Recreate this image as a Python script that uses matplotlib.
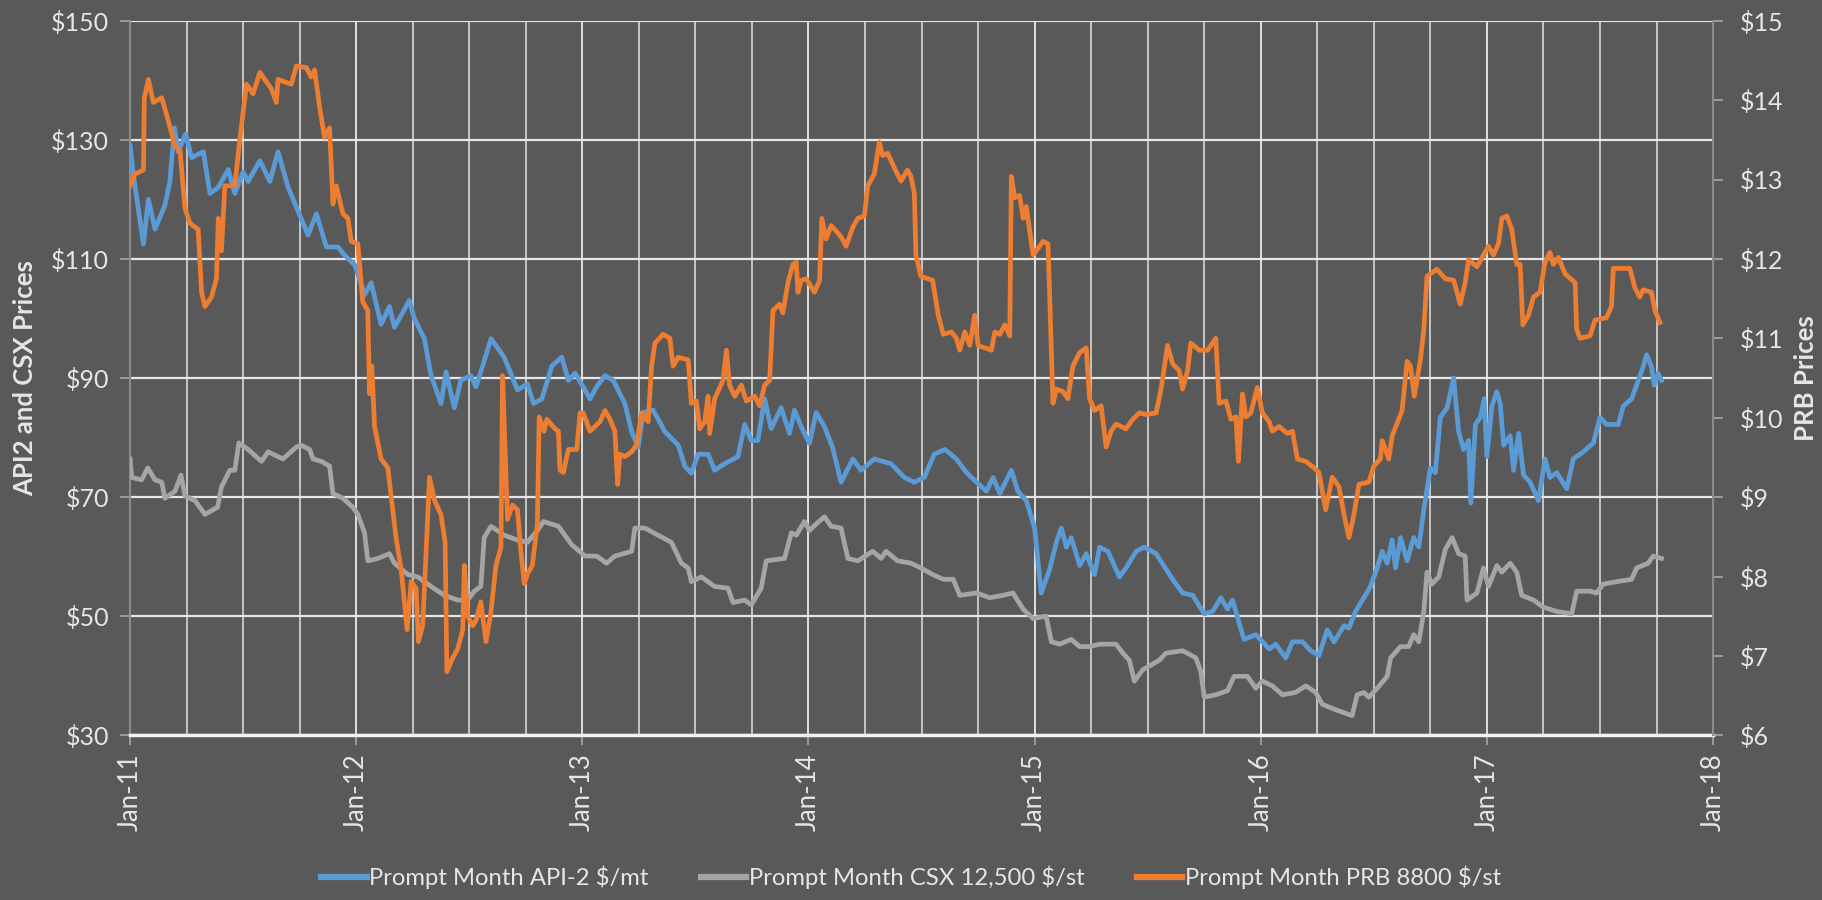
import matplotlib
matplotlib.use('Agg')
import matplotlib.pyplot as plt
from matplotlib.ticker import FixedLocator, FuncFormatter

plt.rcParams['font.family'] = ['Lato', 'DejaVu Sans']

# x values are decimal years
api2_t = [2011.000, 2011.015, 2011.059, 2011.081, 2011.110, 2011.154, 2011.176, 2011.196, 2011.213, 2011.246,
          2011.272, 2011.324, 2011.353, 2011.390, 2011.434, 2011.463, 2011.500, 2011.522, 2011.574, 2011.618,
          2011.654, 2011.699, 2011.743, 2011.787, 2011.824, 2011.868, 2011.919, 2011.949, 2011.993, 2012.037,
          2012.066, 2012.110, 2012.147, 2012.169, 2012.235, 2012.257, 2012.301, 2012.331, 2012.375, 2012.397,
          2012.434, 2012.463, 2012.507, 2012.529, 2012.559, 2012.596, 2012.654, 2012.713, 2012.757, 2012.784,
          2012.821, 2012.865, 2012.909, 2012.938, 2012.968, 2013.034, 2013.063, 2013.100, 2013.137, 2013.188,
          2013.218, 2013.247, 2013.269, 2013.313, 2013.365, 2013.424, 2013.453, 2013.482, 2013.512, 2013.556,
          2013.585, 2013.629, 2013.688, 2013.718, 2013.747, 2013.776, 2013.806, 2013.835, 2013.879, 2013.916,
          2013.938, 2013.968, 2014.004, 2014.034, 2014.071, 2014.107, 2014.144, 2014.196, 2014.232, 2014.291,
          2014.365, 2014.424, 2014.468, 2014.512, 2014.556, 2014.603, 2014.654, 2014.699, 2014.743, 2014.787,
          2014.816, 2014.846, 2014.897, 2014.926, 2014.963, 2015.000, 2015.029, 2015.066, 2015.096, 2015.118,
          2015.140, 2015.162, 2015.199, 2015.228, 2015.265, 2015.287, 2015.324, 2015.375, 2015.404, 2015.449,
          2015.485, 2015.537, 2015.610, 2015.654, 2015.699, 2015.750, 2015.787, 2015.824, 2015.853, 2015.875,
          2015.926, 2015.978, 2016.037, 2016.066, 2016.110, 2016.140, 2016.184, 2016.221, 2016.257, 2016.294,
          2016.324, 2016.368, 2016.390, 2016.419, 2016.456, 2016.485, 2016.515, 2016.537, 2016.559, 2016.581,
          2016.596, 2016.618, 2016.647, 2016.676, 2016.699, 2016.721, 2016.750, 2016.772, 2016.794, 2016.824,
          2016.853, 2016.875, 2016.897, 2016.919, 2016.929, 2016.949, 2016.971, 2016.988, 2017.000, 2017.022,
          2017.044, 2017.059, 2017.074, 2017.103, 2017.118, 2017.140, 2017.162, 2017.191, 2017.228, 2017.257,
          2017.279, 2017.309, 2017.353, 2017.382, 2017.426, 2017.471, 2017.500, 2017.529, 2017.581, 2017.603,
          2017.640, 2017.662, 2017.691, 2017.706, 2017.728, 2017.740, 2017.757, 2017.772]
api2_v = [129, 124, 112.5, 120, 115, 119, 123, 132, 128, 131,
          127, 128, 121, 122, 125, 121, 124.6, 123, 126.5, 123,
          128, 122, 118, 114, 117.6, 112, 112, 110.6, 109, 104,
          106, 99, 102, 98.5, 103, 100, 96.6, 90.4, 85.7, 91,
          85, 89.6, 90.4, 88.5, 92, 96.6, 93.5, 88, 89, 85.7,
          86.5, 92, 93.5, 89.6, 90.8, 86.5, 88.5, 90.4, 89.6, 85.7,
          81, 78.4, 84.2, 84.6, 81, 78.7, 75.2, 74, 77.2, 77.2,
          74.5, 75.6, 76.8, 82.2, 79.5, 79.5, 86.5, 81.5, 85, 80.7,
          84.6, 81.8, 79, 84.2, 81.8, 78.3, 72.5, 76.4, 74.5, 76.4,
          75.6, 73.3, 72.5, 73.3, 77.2, 78, 76.4, 74.1, 72.5, 71,
          73.3, 70.6, 74.5, 71, 69.4, 64.8, 53.9, 57.8, 62.4, 64.8,
          61.6, 63.2, 58.5, 60.5, 57, 61.6, 60.9, 56.6, 58.1, 60.9,
          61.6, 60.5, 56.2, 53.9, 53.5, 50.4, 50.8, 53.1, 51.2, 52.7,
          46.1, 46.9, 44.5, 45.3, 43, 45.7, 45.7, 44.2, 43.4, 47.7,
          45.7, 48.4, 48, 50.8, 53.1, 55, 58.1, 60.9, 58.9, 62.8,
          58.1, 63.2, 59.3, 63.2, 61.6, 67.9, 74.9, 74.1, 83.4, 85,
          90, 81, 78, 79.5, 69, 82.2, 83.4, 86.5, 76.8, 85.3,
          87.7, 85.7, 78.7, 80.3, 74.5, 80.7, 73.7, 72.5, 69.4, 76.4,
          73.3, 74.1, 71.4, 76.4, 77.6, 79.1, 83.4, 82.2, 82.2, 85.3,
          86.5, 88.8, 91.9, 93.9, 91.9, 88.8, 90.8, 89.6]

csx_t = [2011.000, 2011.007, 2011.051, 2011.078, 2011.110, 2011.140, 2011.154, 2011.199, 2011.225, 2011.243,
         2011.287, 2011.331, 2011.387, 2011.404, 2011.441, 2011.463, 2011.481, 2011.522, 2011.581, 2011.610,
         2011.654, 2011.676, 2011.735, 2011.757, 2011.794, 2011.809, 2011.846, 2011.882, 2011.897, 2011.941,
         2011.985, 2012.007, 2012.037, 2012.051, 2012.096, 2012.147, 2012.169, 2012.228, 2012.272, 2012.331,
         2012.390, 2012.449, 2012.493, 2012.522, 2012.551, 2012.566, 2012.596, 2012.654, 2012.713, 2012.757,
         2012.801, 2012.828, 2012.894, 2012.953, 2013.012, 2013.063, 2013.107, 2013.144, 2013.218, 2013.232,
         2013.276, 2013.335, 2013.394, 2013.438, 2013.468, 2013.482, 2013.526, 2013.585, 2013.644, 2013.666,
         2013.718, 2013.747, 2013.791, 2013.813, 2013.894, 2013.924, 2013.946, 2013.982, 2014.004, 2014.034,
         2014.071, 2014.100, 2014.144, 2014.174, 2014.218, 2014.284, 2014.321, 2014.343, 2014.394, 2014.453,
         2014.497, 2014.549, 2014.596, 2014.640, 2014.669, 2014.743, 2014.801, 2014.860, 2014.904, 2014.949,
         2014.993, 2015.051, 2015.074, 2015.110, 2015.162, 2015.199, 2015.243, 2015.287, 2015.360, 2015.390,
         2015.419, 2015.441, 2015.478, 2015.551, 2015.581, 2015.654, 2015.713, 2015.735, 2015.750, 2015.801,
         2015.853, 2015.882, 2015.941, 2015.978, 2016.007, 2016.051, 2016.096, 2016.154, 2016.199, 2016.243,
         2016.272, 2016.324, 2016.404, 2016.426, 2016.456, 2016.478, 2016.515, 2016.559, 2016.574, 2016.618,
         2016.654, 2016.676, 2016.699, 2016.721, 2016.735, 2016.757, 2016.787, 2016.816, 2016.846, 2016.875,
         2016.904, 2016.912, 2016.956, 2016.985, 2017.007, 2017.044, 2017.066, 2017.103, 2017.132, 2017.154,
         2017.206, 2017.250, 2017.309, 2017.375, 2017.397, 2017.456, 2017.485, 2017.515, 2017.574, 2017.640,
         2017.662, 2017.713, 2017.735, 2017.772]
csx_v = [76.4, 73.3, 72.9, 74.9, 72.9, 72.5, 69.8, 71, 73.7, 70.2,
         69.4, 67.1, 68.3, 71.7, 74.5, 74.5, 79.1, 78, 76, 77.6,
         76.8, 76.4, 78.4, 78.7, 78, 76.4, 76, 75.2, 70.6, 69.8,
         68.3, 67.1, 64, 59.3, 59.7, 60.5, 58.9, 57, 56.6, 55,
         53.5, 52.7, 52.7, 54.2, 55, 63.2, 65.1, 63.6, 62.8, 62.4,
         64.4, 65.9, 65.1, 62, 60.1, 60.1, 58.9, 60.1, 60.9, 64.8,
         64.8, 63.6, 62.4, 58.9, 58.1, 55.8, 56.6, 55, 54.7, 52.3,
         52.7, 51.9, 54.7, 59.3, 59.7, 64, 63.6, 65.9, 64.4, 65.5,
         66.7, 65.1, 64.8, 59.7, 59.3, 60.9, 59.7, 60.9, 59.3, 58.9,
         58.1, 57, 56.2, 56.2, 53.5, 53.9, 53.1, 53.5, 53.9, 51.2,
         49.6, 50, 45.7, 45.3, 46.1, 44.9, 44.9, 45.3, 45.3, 43.8,
         42.6, 39.1, 41, 42.6, 43.8, 44.2, 43, 40.7, 36.4, 36.8,
         37.5, 39.9, 39.9, 37.9, 39.1, 38.3, 36.8, 37.2, 38.3, 37.2,
         35.2, 34.4, 33.3, 36.8, 37.2, 36.4, 37.9, 39.9, 43, 44.9,
         44.9, 46.9, 45.7, 50.8, 57.4, 55.4, 56.6, 61.2, 63.2, 60.5,
         60.1, 52.7, 53.9, 58.1, 55, 58.5, 57.4, 58.9, 57.4, 53.5,
         52.7, 51.5, 50.8, 50.4, 54.2, 54.2, 53.9, 55.4, 55.8, 56.2,
         58.1, 58.9, 60.1, 59.7]

prb_t = [2011.000, 2011.022, 2011.059, 2011.063, 2011.081, 2011.103, 2011.140, 2011.169, 2011.199, 2011.221,
         2011.243, 2011.265, 2011.301, 2011.316, 2011.331, 2011.360, 2011.382, 2011.390, 2011.404, 2011.419,
         2011.463, 2011.485, 2011.515, 2011.544, 2011.574, 2011.625, 2011.647, 2011.654, 2011.713, 2011.735,
         2011.779, 2011.801, 2011.816, 2011.838, 2011.860, 2011.882, 2011.897, 2011.912, 2011.941, 2011.963,
         2011.978, 2012.007, 2012.029, 2012.051, 2012.059, 2012.069, 2012.081, 2012.110, 2012.140, 2012.154,
         2012.176, 2012.199, 2012.225, 2012.243, 2012.265, 2012.275, 2012.294, 2012.309, 2012.324, 2012.346,
         2012.375, 2012.393, 2012.401, 2012.426, 2012.449, 2012.471, 2012.478, 2012.493, 2012.515, 2012.529,
         2012.551, 2012.574, 2012.596, 2012.618, 2012.640, 2012.647, 2012.669, 2012.691, 2012.713, 2012.728,
         2012.743, 2012.757, 2012.779, 2012.801, 2012.809, 2012.831, 2012.843, 2012.879, 2012.894, 2012.901,
         2012.916, 2012.938, 2012.975, 2012.990, 2013.004, 2013.034, 2013.078, 2013.100, 2013.122, 2013.144,
         2013.156, 2013.166, 2013.188, 2013.218, 2013.240, 2013.262, 2013.291, 2013.306, 2013.321, 2013.357,
         2013.387, 2013.401, 2013.424, 2013.468, 2013.482, 2013.504, 2013.519, 2013.541, 2013.556, 2013.563,
         2013.585, 2013.622, 2013.637, 2013.651, 2013.674, 2013.703, 2013.725, 2013.762, 2013.784, 2013.806,
         2013.828, 2013.843, 2013.872, 2013.887, 2013.909, 2013.931, 2013.946, 2013.953, 2013.968, 2013.990,
         2014.026, 2014.049, 2014.059, 2014.078, 2014.100, 2014.144, 2014.166, 2014.196, 2014.218, 2014.247,
         2014.262, 2014.291, 2014.313, 2014.328, 2014.350, 2014.379, 2014.409, 2014.438, 2014.453, 2014.468,
         2014.475, 2014.497, 2014.549, 2014.574, 2014.596, 2014.632, 2014.654, 2014.669, 2014.691, 2014.713,
         2014.735, 2014.750, 2014.779, 2014.809, 2014.824, 2014.846, 2014.868, 2014.890, 2014.897, 2014.912,
         2014.934, 2014.949, 2014.963, 2014.993, 2015.022, 2015.037, 2015.059, 2015.066, 2015.081, 2015.096,
         2015.125, 2015.147, 2015.169, 2015.199, 2015.228, 2015.243, 2015.265, 2015.294, 2015.316, 2015.338,
         2015.360, 2015.404, 2015.434, 2015.463, 2015.493, 2015.537, 2015.559, 2015.588, 2015.610, 2015.640,
         2015.654, 2015.676, 2015.691, 2015.728, 2015.765, 2015.801, 2015.816, 2015.846, 2015.868, 2015.890,
         2015.901, 2015.919, 2015.934, 2015.956, 2015.985, 2016.007, 2016.037, 2016.051, 2016.081, 2016.118,
         2016.140, 2016.162, 2016.199, 2016.235, 2016.257, 2016.287, 2016.316, 2016.346, 2016.368, 2016.390,
         2016.412, 2016.434, 2016.478, 2016.500, 2016.529, 2016.537, 2016.566, 2016.581, 2016.610, 2016.625,
         2016.647, 2016.662, 2016.679, 2016.706, 2016.721, 2016.735, 2016.779, 2016.816, 2016.853, 2016.882,
         2016.904, 2016.919, 2016.956, 2016.985, 2017.007, 2017.029, 2017.051, 2017.066, 2017.088, 2017.110,
         2017.132, 2017.147, 2017.159, 2017.184, 2017.206, 2017.235, 2017.257, 2017.279, 2017.294, 2017.316,
         2017.346, 2017.390, 2017.397, 2017.412, 2017.456, 2017.478, 2017.529, 2017.551, 2017.559, 2017.632,
         2017.654, 2017.676, 2017.691, 2017.728, 2017.743, 2017.765]
prb_v = [12.92, 13.07, 13.12, 14.03, 14.26, 13.97, 14.03, 13.74, 13.42, 13.36,
         12.63, 12.45, 12.37, 11.58, 11.4, 11.52, 11.75, 12.51, 12.1, 12.92,
         12.92, 13.5, 14.2, 14.08, 14.35, 14.14, 13.97, 14.26, 14.2, 14.43,
         14.41, 14.29, 14.38, 13.91, 13.53, 13.65, 12.69, 12.92, 12.57, 12.51,
         12.22, 12.19, 11.46, 11.35, 10.3, 10.65, 9.89, 9.48, 9.37, 9.02,
         8.49, 8.08, 7.33, 7.94, 7.85, 7.18, 7.38, 8.32, 9.25, 8.96,
         8.78, 8.43, 6.8, 6.97, 7.09, 7.33, 8.14, 7.5, 7.38, 7.44,
         7.68, 7.18, 7.56, 8.14, 8.37, 10.53, 8.72, 8.9, 8.84, 8.32,
         7.91, 8.03, 8.14, 8.67, 10.01, 9.83, 9.98, 9.86, 9.83, 9.34,
         9.31, 9.6, 9.6, 10.06, 10.06, 9.83, 9.95, 10.09, 9.98, 9.83,
         9.16, 9.54, 9.51, 9.57, 9.66, 10.06, 9.95, 10.65, 10.94, 11.05,
         11.0, 10.65, 10.76, 10.73, 10.18, 10.21, 9.86, 9.95, 10.27, 9.8,
         10.24, 10.47, 10.85, 10.41, 10.27, 10.41, 10.21, 10.27, 10.15, 10.41,
         10.47, 11.35, 11.43, 11.32, 11.7, 11.93, 11.96, 11.58, 11.73, 11.75,
         11.58, 11.73, 12.51, 12.25, 12.42, 12.28, 12.16, 12.4, 12.51, 12.54,
         12.92, 13.07, 13.47, 13.3, 13.33, 13.15, 12.98, 13.12, 13.04, 12.83,
         12.05, 11.78, 11.73, 11.29, 11.05, 11.08, 11.0, 10.85, 11.08, 10.91,
         11.29, 10.91, 10.88, 10.85, 11.08, 11.05, 11.17, 11.03, 13.04, 12.77,
         12.8, 12.51, 12.66, 12.05, 12.16, 12.22, 12.19, 11.58, 10.18, 10.36,
         10.33, 10.24, 10.65, 10.82, 10.88, 10.24, 10.09, 10.15, 9.63, 9.83,
         9.92, 9.86, 9.98, 10.06, 10.04, 10.06, 10.36, 10.91, 10.68, 10.59,
         10.36, 10.59, 10.94, 10.85, 10.85, 11.0, 10.18, 10.21, 9.98, 10.01,
         9.45, 10.3, 10.01, 10.06, 10.38, 10.06, 9.95, 9.83, 9.89, 9.8,
         9.83, 9.48, 9.45, 9.37, 9.31, 8.84, 9.25, 9.13, 8.78, 8.49,
         8.78, 9.16, 9.19, 9.39, 9.48, 9.71, 9.48, 9.77, 9.98, 10.09,
         10.71, 10.65, 10.27, 10.73, 11.11, 11.78, 11.87, 11.75, 11.73, 11.43,
         11.7, 11.99, 11.9, 12.05, 12.16, 12.05, 12.19, 12.51, 12.54, 12.37,
         11.93, 11.93, 11.17, 11.29, 11.52, 11.58, 11.96, 12.08, 11.93, 12.02,
         11.81, 11.7, 11.11, 11.0, 11.03, 11.23, 11.26, 11.4, 11.88, 11.88,
         11.64, 11.52, 11.61, 11.58, 11.35, 11.2]

series_names = ['Prompt Month API-2 $/mt', 'Prompt Month CSX 12,500 $/st', 'Prompt Month PRB 8800 $/st']
year_ticks = [2011, 2012, 2013, 2014, 2015, 2016, 2017, 2018]
year_labels = ['Jan-11', 'Jan-12', 'Jan-13', 'Jan-14', 'Jan-15', 'Jan-16', 'Jan-17', 'Jan-18']

bg = '#595959'
txt = '#e6e6e6'
blue, gray, orange = '#5b9bd5', '#a5a5a5', '#ed7d31'

fig = plt.figure(figsize=(18.22, 9.0), dpi=100, facecolor=bg)
ax = fig.add_axes([0.0714, 0.183, 0.8688, 0.794])
ax.set_facecolor(bg)
ax2 = ax.twinx()

l1, = ax.plot(api2_t, api2_v, color=blue, lw=3.4, label=series_names[0], zorder=3)
l2, = ax.plot(csx_t, csx_v, color=gray, lw=3.4, label=series_names[1], zorder=3)
l3, = ax2.plot(prb_t, prb_v, color=orange, lw=3.4, label=series_names[2], zorder=3)

ax.set_xlim(2011, 2018)
ax.set_ylim(30, 150)
ax2.set_ylim(6, 15)
ax.set_yticks(range(30, 151, 20))
ax2.set_yticks(range(6, 16))
ax.yaxis.set_major_formatter(FuncFormatter(lambda v, p: f'${v:.0f}'))
ax2.yaxis.set_major_formatter(FuncFormatter(lambda v, p: f'${v:.0f}'))

ax.set_xticks(year_ticks)
ax.set_xticklabels(year_labels, rotation=90)
ax.xaxis.set_minor_locator(FixedLocator([y + q / 4 for y in range(2011, 2018) for q in (1, 2, 3)]))

ax.grid(True, axis='y', color='#e6e6e6', lw=1.6, zorder=0)
ax.grid(True, axis='x', which='major', color='#e0e0e0', lw=1.4, zorder=0)
ax.grid(True, axis='x', which='minor', color='#c4c4c4', lw=1.4, zorder=0)
ax.set_axisbelow(True)

for a in (ax, ax2):
    a.tick_params(axis='both', which='major', colors='#a6a6a6', labelcolor=txt, labelsize=18, length=7, width=1.2)
    a.tick_params(axis='x', which='minor', length=0)
    for s in a.spines.values():
        s.set_visible(False)
ax.tick_params(axis='x', labelsize=18.5, pad=6)
ax.spines['left'].set_visible(True)
ax.spines['left'].set_color('#8c8c8c')
ax.spines['left'].set_linewidth(1.5)
ax.spines['bottom'].set_visible(True)
ax.spines['bottom'].set_color('#f2f2f2')
ax.spines['bottom'].set_linewidth(2.5)
ax2.spines['right'].set_visible(True)
ax2.spines['right'].set_color('#8c8c8c')
ax2.spines['right'].set_linewidth(1.5)
ax.tick_params(axis='y', pad=8)
ax2.tick_params(axis='y', pad=12)

# axis titles placed in figure coordinates
fig.text(25 / 1822, 0.58, 'API2 and CSX Prices', color=txt, fontsize=18.5, fontweight='bold',
         rotation=90, ha='center', va='center')
fig.text(1806 / 1822, 0.58, 'PRB Prices', color=txt, fontsize=18.5, fontweight='bold',
         rotation=90, ha='center', va='center')

leg = fig.legend(handles=[l1, l2, l3], loc='lower center', bbox_to_anchor=(0.5, -0.012), ncol=3, frameon=False,
                 fontsize=17.2, labelcolor=txt, handlelength=1.9, handletextpad=0.1, columnspacing=2.2)
for ln in leg.get_lines():
    ln.set_linewidth(4.5)

fig.savefig('out.png', dpi=100, facecolor=bg)
